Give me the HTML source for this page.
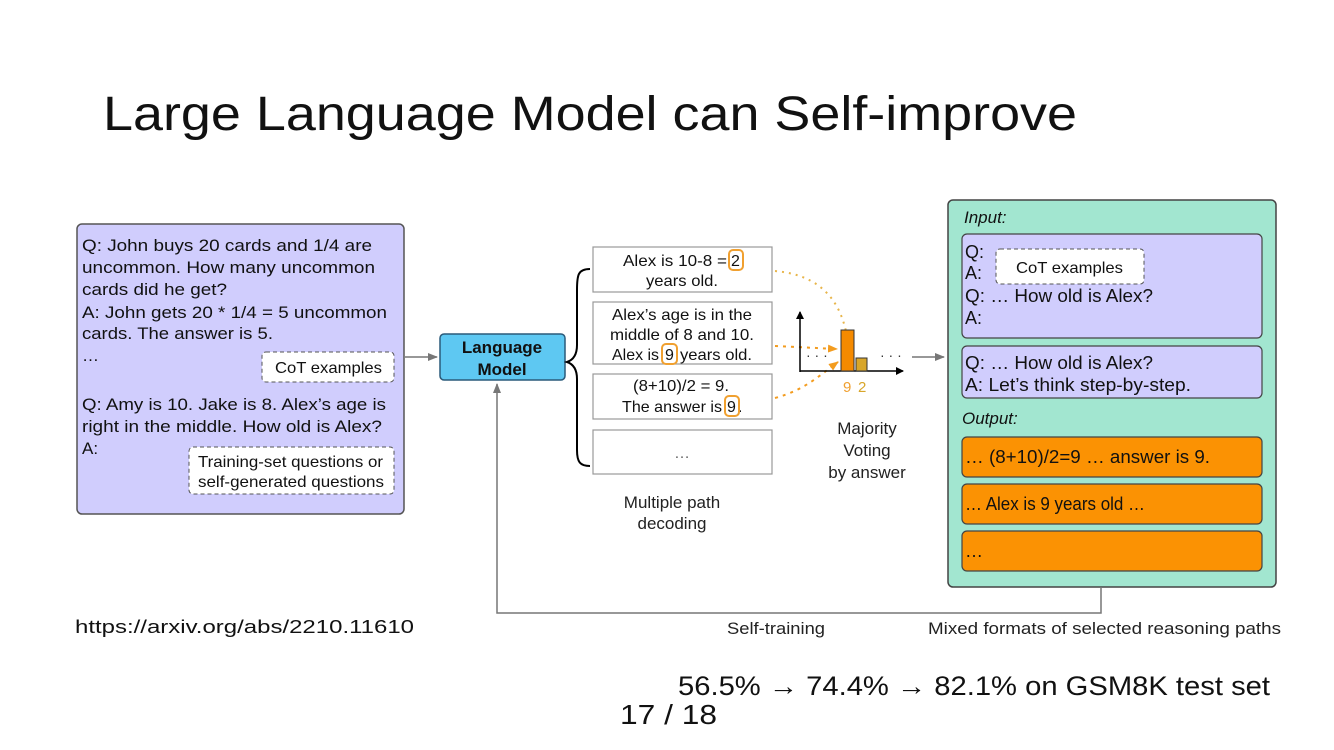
<!DOCTYPE html>
<html><head><meta charset="utf-8"><style>
html,body{margin:0;padding:0;background:#fff;}
svg{display:block;font-family:"Liberation Sans",Arial,sans-serif;}
</style></head><body>
<svg width="1334" height="750" viewBox="0 0 1334 750" xmlns="http://www.w3.org/2000/svg">
<defs>
<marker id="ah" markerWidth="10" markerHeight="8" refX="9" refY="4" orient="auto" markerUnits="userSpaceOnUse"><path d="M0,0 L10,4 L0,8 z" fill="#777"/></marker>
<marker id="ak" markerWidth="8" markerHeight="8" refX="7" refY="4" orient="auto" markerUnits="userSpaceOnUse"><path d="M0,0 L8,4 L0,8 z" fill="#000"/></marker>
<marker id="ao" markerWidth="10" markerHeight="8" refX="9" refY="4" orient="auto" markerUnits="userSpaceOnUse"><path d="M0,0 L10,4 L0,8 z" fill="#f39c1f"/></marker>
<marker id="ag" markerWidth="10" markerHeight="8" refX="9" refY="4" orient="auto" markerUnits="userSpaceOnUse"><path d="M0,0 L10,4 L0,8 z" fill="#e8b54a"/></marker>
</defs>

<text x="103" y="130" font-size="48" textLength="974" lengthAdjust="spacingAndGlyphs" fill="#111">Large Language Model can Self-improve</text>

<!-- left box -->
<rect x="77" y="224" width="327" height="290" rx="5" fill="#d0cdfd" stroke="#555" stroke-width="1.5"/>
<g font-size="17" fill="#111">
<text x="82" y="251" textLength="290" lengthAdjust="spacingAndGlyphs">Q: John buys 20 cards and 1/4 are</text>
<text x="82" y="273" textLength="293" lengthAdjust="spacingAndGlyphs">uncommon. How many uncommon</text>
<text x="82" y="295" textLength="145" lengthAdjust="spacingAndGlyphs">cards did he get?</text>
<text x="82" y="318" textLength="305" lengthAdjust="spacingAndGlyphs">A: John gets 20 * 1/4 = 5 uncommon</text>
<text x="82" y="339" textLength="191" lengthAdjust="spacingAndGlyphs">cards. The answer is 5.</text>
<text x="82" y="361">…</text>
<text x="82" y="410" textLength="304" lengthAdjust="spacingAndGlyphs">Q: Amy is 10. Jake is 8. Alex’s age is</text>
<text x="82" y="432" textLength="300" lengthAdjust="spacingAndGlyphs">right in the middle. How old is Alex?</text>
<text x="82" y="454">A:</text>
</g>
<rect x="262" y="352" width="132" height="30" rx="4" fill="#fff" stroke="#555" stroke-dasharray="4,3"/>
<text x="275" y="373" font-size="16" textLength="107" lengthAdjust="spacingAndGlyphs" fill="#111">CoT examples</text>
<rect x="189" y="447" width="205" height="47" rx="4" fill="#fff" stroke="#555" stroke-dasharray="4,3"/>
<text x="198" y="467" font-size="16" textLength="185" lengthAdjust="spacingAndGlyphs" fill="#111">Training-set questions or</text>
<text x="198" y="487" font-size="16" textLength="186" lengthAdjust="spacingAndGlyphs" fill="#111">self-generated questions</text>

<line x1="405" y1="357" x2="437" y2="357" stroke="#777" stroke-width="1.5" marker-end="url(#ah)"/>
<rect x="440" y="334" width="125" height="46" rx="4" fill="#5ec8f2" stroke="#2a5a7a" stroke-width="1.5"/>
<text x="502" y="353" font-size="17" font-weight="bold" text-anchor="middle" fill="#111">Language</text>
<text x="502" y="375" font-size="17" font-weight="bold" text-anchor="middle" fill="#111">Model</text>

<!-- brace -->
<path d="M590,269 C578,269 577,275 577,290 L577,345 C577,355 573,360 567,362 C573,364 577,369 577,379 L577,450 C577,462 580,466 590,466" fill="none" stroke="#000" stroke-width="2"/>

<!-- path boxes -->
<g fill="#fff" stroke="#999" stroke-width="1.2">
<rect x="593" y="247" width="179" height="45"/>
<rect x="593" y="302" width="179" height="62"/>
<rect x="593" y="374" width="179" height="45"/>
<rect x="593" y="430" width="179" height="44"/>
</g>
<g font-size="16" fill="#111">
<text x="623" y="266" textLength="104" lengthAdjust="spacingAndGlyphs">Alex is 10-8 =</text>
<text x="731" y="266">2</text>
<text x="646" y="286" textLength="72" lengthAdjust="spacingAndGlyphs">years old.</text>
<text x="612" y="320" textLength="140" lengthAdjust="spacingAndGlyphs">Alex’s age is in the</text>
<text x="610" y="340" textLength="144" lengthAdjust="spacingAndGlyphs">middle of 8 and 10.</text>
<text x="612" y="360" textLength="47" lengthAdjust="spacingAndGlyphs">Alex is</text>
<text x="665" y="360">9</text>
<text x="680" y="360" textLength="72" lengthAdjust="spacingAndGlyphs">years old.</text>
<text x="633" y="391" textLength="96" lengthAdjust="spacingAndGlyphs">(8+10)/2 = 9.</text>
<text x="622" y="412" textLength="100" lengthAdjust="spacingAndGlyphs">The answer is</text>
<text x="727" y="412">9</text>
<text x="738" y="412">.</text>
<text x="682" y="458" fill="#666" text-anchor="middle">…</text>
</g>
<g fill="none" stroke="#f0a030" stroke-width="2">
<rect x="729" y="250" width="14" height="20" rx="4"/>
<rect x="662" y="344" width="15" height="20" rx="4"/>
<rect x="725" y="396" width="14" height="20" rx="4"/>
</g>

<!-- dotted arrows -->
<path d="M775,271 C820,275 845,300 849,352" fill="none" stroke="#e8b54a" stroke-width="2" stroke-dasharray="2,5" marker-end="url(#ag)"/>
<path d="M775,346 L837,349" fill="none" stroke="#f39c1f" stroke-width="2" stroke-dasharray="3,5" marker-end="url(#ao)"/>
<path d="M775,398 C805,390 820,375 838,362" fill="none" stroke="#f39c1f" stroke-width="2" stroke-dasharray="3,5" marker-end="url(#ao)"/>

<!-- chart -->
<line x1="800" y1="372" x2="800" y2="312" stroke="#000" stroke-width="1.5" marker-end="url(#ak)"/>
<line x1="800" y1="371" x2="903" y2="371" stroke="#000" stroke-width="1.5" marker-end="url(#ak)"/>
<rect x="841" y="330" width="13" height="41" fill="#f58a00" stroke="#333" stroke-width="1"/>
<rect x="856" y="358" width="11" height="13" fill="#d8a62a" stroke="#333" stroke-width="1"/>
<text x="806" y="360" font-size="14" fill="#333">· · ·</text>
<text x="880" y="360" font-size="14" fill="#333">· · ·</text>
<text x="843" y="392" font-size="15" fill="#f0a030">9</text>
<text x="858" y="392" font-size="15" fill="#d8a62a">2</text>
<g font-size="17" fill="#222" text-anchor="middle">
<text x="867" y="434">Majority</text>
<text x="867" y="456">Voting</text>
<text x="867" y="478">by answer</text>
<text x="672" y="508">Multiple path</text>
<text x="672" y="529">decoding</text>
</g>

<line x1="912" y1="357" x2="944" y2="357" stroke="#777" stroke-width="1.5" marker-end="url(#ah)"/>

<!-- right box -->
<rect x="948" y="200" width="328" height="387" rx="5" fill="#a2e6d0" stroke="#444" stroke-width="1.5"/>
<text x="964" y="223" font-size="17" font-style="italic" fill="#111">Input:</text>
<rect x="962" y="234" width="300" height="104" rx="5" fill="#d0cdfd" stroke="#444" stroke-width="1.2"/>
<g font-size="18" fill="#111">
<text x="965" y="258">Q:</text>
<text x="965" y="279">A:</text>
<text x="965" y="302" textLength="188" lengthAdjust="spacingAndGlyphs">Q: … How old is Alex?</text>
<text x="965" y="324">A:</text>
</g>
<rect x="996" y="249" width="148" height="35" rx="4" fill="#fff" stroke="#555" stroke-dasharray="4,3"/>
<text x="1016" y="273" font-size="16" textLength="107" lengthAdjust="spacingAndGlyphs" fill="#111">CoT examples</text>
<rect x="962" y="346" width="300" height="52" rx="5" fill="#d0cdfd" stroke="#444" stroke-width="1.2"/>
<text x="965" y="369" font-size="18" textLength="188" lengthAdjust="spacingAndGlyphs" fill="#111">Q: … How old is Alex?</text>
<text x="965" y="391" font-size="18" textLength="226" lengthAdjust="spacingAndGlyphs" fill="#111">A: Let’s think step-by-step.</text>
<text x="962" y="424" font-size="17" font-style="italic" fill="#111">Output:</text>
<g fill="#fb9203" stroke="#444" stroke-width="1.2">
<rect x="962" y="437" width="300" height="40" rx="5"/>
<rect x="962" y="484" width="300" height="40" rx="5"/>
<rect x="962" y="531" width="300" height="40" rx="5"/>
</g>
<g font-size="18" fill="#111">
<text x="965" y="463" textLength="245" lengthAdjust="spacingAndGlyphs">… (8+10)/2=9 … answer is 9.</text>
<text x="965" y="510" textLength="180" lengthAdjust="spacingAndGlyphs">… Alex is 9 years old …</text>
<text x="965" y="557">…</text>
</g>

<!-- feedback -->
<path d="M1101,588 L1101,613 L497,613 L497,384" fill="none" stroke="#777" stroke-width="1.5" marker-end="url(#ah)"/>

<text x="727" y="634" font-size="17" textLength="98" lengthAdjust="spacingAndGlyphs" fill="#222">Self-training</text>
<text x="928" y="634" font-size="17" textLength="353" lengthAdjust="spacingAndGlyphs" fill="#222">Mixed formats of selected reasoning paths</text>
<text x="75" y="633" font-size="18" textLength="339" lengthAdjust="spacingAndGlyphs" fill="#111">https://arxiv.org/abs/2210.11610</text>

<text x="678" y="695" font-size="27" textLength="592" lengthAdjust="spacingAndGlyphs" fill="#111">56.5% → 74.4% → 82.1% on GSM8K test set</text>
<text x="620" y="724" font-size="28" textLength="97" lengthAdjust="spacingAndGlyphs" fill="#111">17 / 18</text>
</svg>
</body></html>
